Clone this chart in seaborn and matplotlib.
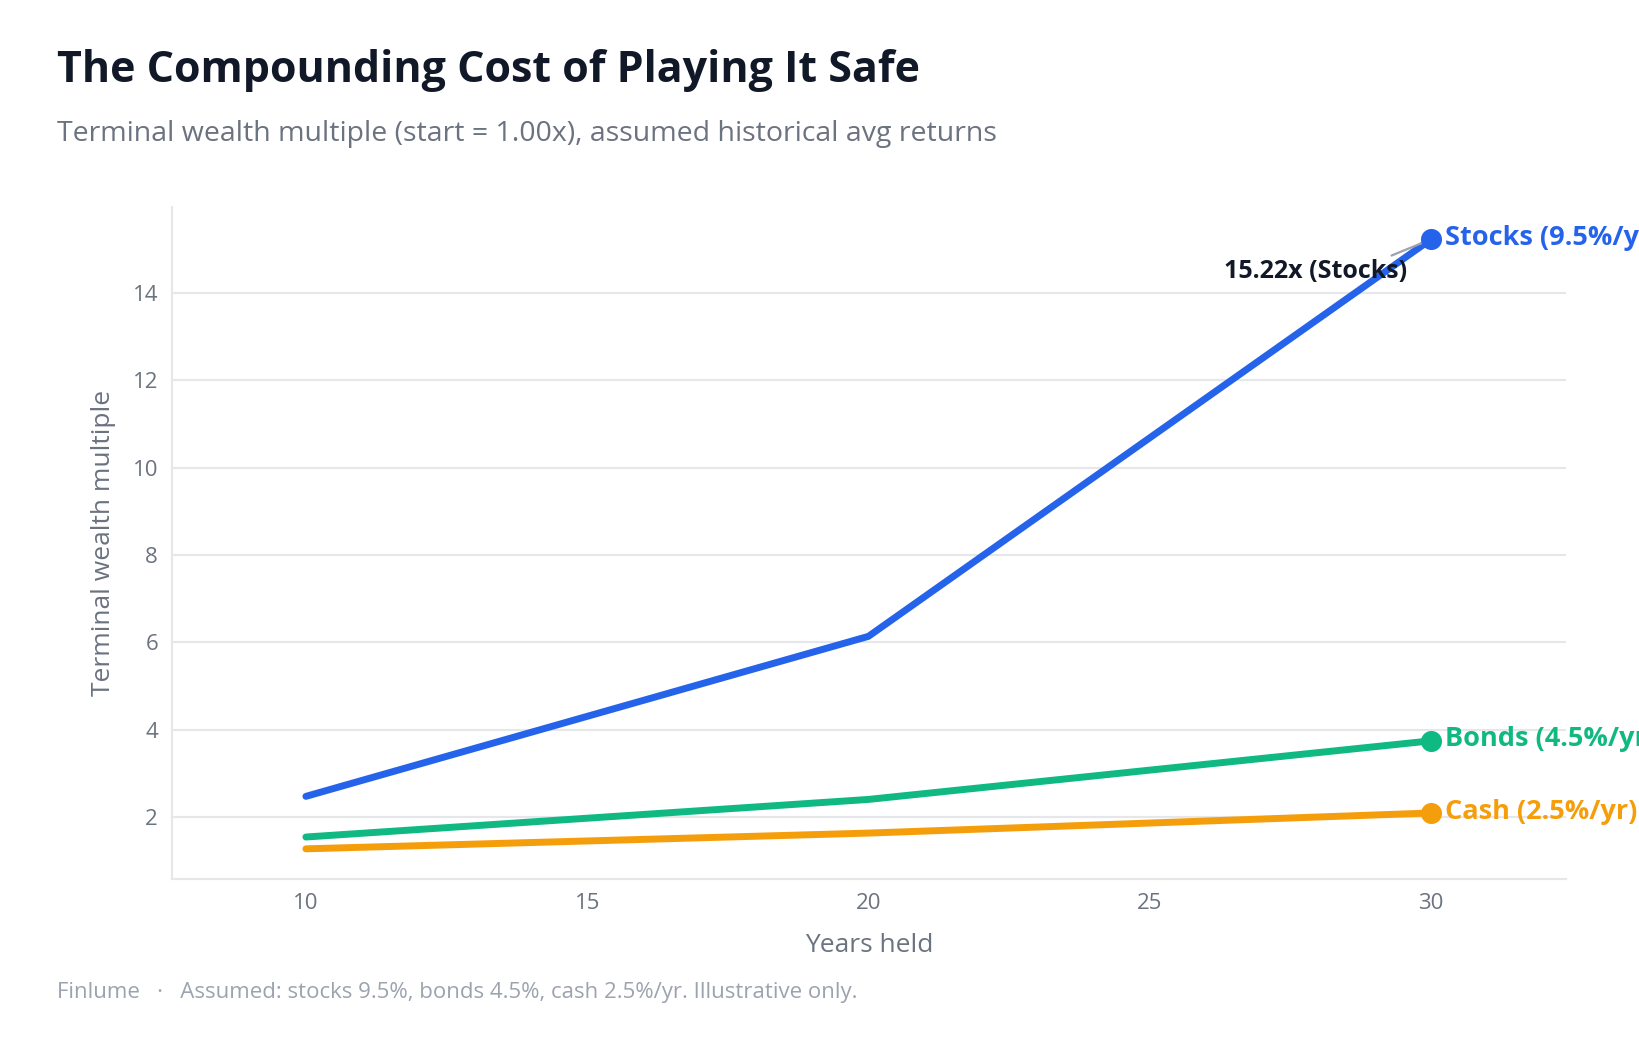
import matplotlib
matplotlib.use("Agg")
import matplotlib.pyplot as plt
import seaborn as sns
import pandas as pd

years = [10, 20, 30]
stocks = [2.48, 6.14, 15.22]
bonds = [1.55, 2.41, 3.75]
cash = [1.28, 1.64, 2.10]
series_names = ["Stocks", "Bonds", "Cash"]
end_labels = ["Stocks (9.5%/yr)", "Bonds (4.5%/yr)", "Cash (2.5%/yr)"]
colors = ["#2563EB", "#10B981", "#F59E0B"]

df = pd.DataFrame({
    "Years held": years * 3,
    "value": stocks + bonds + cash,
    "series": [s for s in series_names for _ in years],
})

sns.set_theme(style="white")
plt.rcParams["font.family"] = ["Open Sans", "DejaVu Sans"]

fig = plt.figure(figsize=(16.39, 10.40), dpi=100)
ax = fig.add_axes([172/1639, 1 - 879/1040, (1566-172)/1639, (879-207)/1040])

sns.lineplot(data=df, x="Years held", y="value", hue="series",
             palette=dict(zip(series_names, colors)), linewidth=5,
             legend=False, ax=ax, solid_capstyle="round")

ends = [stocks[-1], bonds[-1], cash[-1]]
for name, lab, col, v in zip(series_names, end_labels, colors, ends):
    sns.scatterplot(x=[years[-1]], y=[v], color=col, s=230, ax=ax, zorder=5,
                    edgecolor=col, linewidth=0)
    ax.annotate(lab, xy=(years[-1], v), xytext=(10, 1), textcoords="offset points",
                color=col, fontsize=19.5, fontweight="bold", va="center", ha="left",
                annotation_clip=False, clip_on=False)

ax.annotate(f"{stocks[-1]:.2f}x (Stocks)", xy=(years[-1], stocks[-1]),
            xytext=(-17, -23), textcoords="offset points", ha="right", va="center",
            fontsize=18, fontweight="bold", color="#111827",
            arrowprops=dict(arrowstyle="-", color="#9CA3AF", lw=1.6,
                            shrinkA=0, shrinkB=6, relpos=(0.87, 1.0)))

ax.set_xlim(7.62, 32.4)
ax.set_ylim(0.59, 15.96)
ax.set_xticks([10, 15, 20, 25, 30])
ax.set_yticks([2, 4, 6, 8, 10, 12, 14])
ax.grid(axis="y", color="#E5E7EB", linewidth=1.5)
ax.grid(axis="x", visible=False)
ax.set_axisbelow(True)
for s in ["top", "right"]:
    ax.spines[s].set_visible(False)
for s in ["left", "bottom"]:
    ax.spines[s].set_color("#E5E7EB")
    ax.spines[s].set_linewidth(1.5)
ax.tick_params(axis="both", colors="#6B7280", labelsize=16, length=0, pad=10)
ax.set_xlabel("Years held", fontsize=19, color="#6B7280", labelpad=14)
ax.set_ylabel("Terminal wealth multiple", fontsize=19, color="#6B7280", labelpad=12)

fig.text(57/1639, 1 - 82/1040, "The Compounding Cost of Playing It Safe",
         fontsize=31, fontweight="bold", color="#111827", ha="left", va="baseline")
fig.text(57/1639, 1 - 141/1040,
         "Terminal wealth multiple (start = 1.00x), assumed historical avg returns",
         fontsize=20.5, color="#6B7280", ha="left", va="baseline")
fig.text(57/1639, 1 - 998/1040,
         "Finlume   ·   Assumed: stocks 9.5%, bonds 4.5%, cash 2.5%/yr. Illustrative only.",
         fontsize=16, color="#9CA3AF", ha="left", va="baseline")

fig.savefig("out.png", dpi=100, facecolor="white")
